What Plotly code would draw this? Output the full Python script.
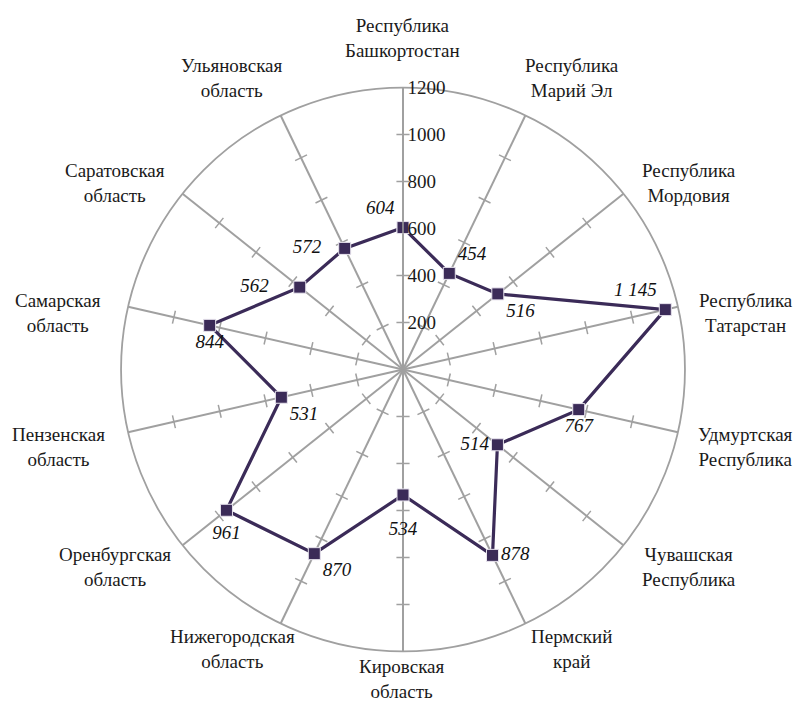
import math
import plotly.graph_objects as go

categories = [
    "Республика<br>Башкортостан",
    "Республика<br>Марий Эл",
    "Республика<br>Мордовия",
    "Республика<br>Татарстан",
    "Удмуртская<br>Республика",
    "Чувашская<br>Республика",
    "Пермский<br>край",
    "Кировская<br>область",
    "Нижегородская<br>область",
    "Оренбургская<br>область",
    "Пензенская<br>область",
    "Самарская<br>область",
    "Саратовская<br>область",
    "Ульяновская<br>область",
]
values = [604, 454, 516, 1145, 767, 514, 878, 534, 870, 961, 531, 844, 562, 572]
value_labels = ["604", "454", "516", "1 145", "767", "514", "878",
                "534", "870", "961", "531", "844", "562", "572"]
label_positions = ["top left", "top right", "bottom right", "top left",
                   "bottom center", "middle left", "middle right",
                   "bottom center", "bottom right", "bottom center",
                   "bottom right", "bottom center", "middle left", "middle left"]
# spacing of each value label from its point (style only)
label_gaps = [12, 12, 12, 12, 12, 12, 12, 40, 12, 22, 12, 12, 48, 36]
radial_ticks = [200, 400, 600, 800, 1000, 1200]
R_MAX = 1200

W, H = 804, 707
DOM_X = [0.1406, 0.8420]
DOM_Y = [0.0898, 0.8876]
# centre of the drawn circle in figure pixels (from top-left)
CX_PX, CY_PX = 394.0, 361.0

n = len(categories)
angles = [i * 360.0 / n for i in range(n)]

SERIF = "Liberation Serif, DejaVu Serif, serif"
LINE = "#3b2b58"
GRID = "#a0a0a0"
TXT = "#1a1a1a"

fig = go.Figure()

# small perpendicular tick marks on every spoke
half = 28.0
tr, tt = [], []
for a in angles:
    for v in radial_ticks[:-1]:
        rr = math.hypot(v, half)
        da = math.degrees(math.atan2(half, v))
        tr += [rr, rr, None]
        tt += [a - da, a + da, None]
fig.add_trace(go.Scatterpolar(
    r=tr, theta=tt, mode="lines",
    line=dict(color=GRID, width=1.5),
    hoverinfo="skip", showlegend=False))

fig.add_trace(go.Scatterpolar(
    r=values + [values[0]],
    theta=angles + [angles[0]],
    mode="lines+markers",
    line=dict(color=LINE, width=3.2),
    marker=dict(symbol="square", size=12, color=LINE,
                line=dict(color="#e8e4ee", width=1)),
    showlegend=False))

# data labels (invisible markers give the text its offset)
fig.add_trace(go.Scatterpolar(
    r=values, theta=angles, mode="markers+text",
    marker=dict(size=label_gaps, opacity=0),
    text=value_labels, textposition=label_positions,
    textfont=dict(family=SERIF, size=19, color="#111111", style="italic"),
    hoverinfo="skip", showlegend=False))

# category labels, centred, placed around the circle (box-aware spacing)
annotations = []
for a, name in zip(angles, categories):
    t = math.radians(a)
    s, c = math.sin(t), math.cos(t)
    dx = 423 * s - 72 * s * abs(s)
    dy = (77 * c * c + 260 * c - 6) if c > 0 else (298 * c - 12)
    px = CX_PX + dx
    py = CY_PX - dy
    annotations.append(dict(
        x=px / W, y=1 - py / H,
        xref="paper", yref="paper", xanchor="center", yanchor="middle",
        text=name, align="center", showarrow=False,
        font=dict(family=SERIF, size=19, color=TXT)))

fig.update_layout(
    width=W, height=H,
    margin=dict(l=0, r=0, t=0, b=0),
    paper_bgcolor="white",
    plot_bgcolor="white",
    annotations=annotations,
    polar=dict(
        domain=dict(x=DOM_X, y=DOM_Y),
        bgcolor="white",
        angularaxis=dict(
            direction="clockwise", rotation=90,
            thetaunit="degrees",
            tickmode="array", tickvals=angles, ticktext=[""] * n,
            showgrid=True, gridcolor=GRID, gridwidth=1.5,
            showline=True, linecolor=GRID, linewidth=1.8,
            ticks="",
        ),
        radialaxis=dict(
            range=[0, R_MAX], angle=90, tickangle=90,
            tickmode="array", tickvals=radial_ticks,
            showgrid=False, showline=True, linecolor=GRID, linewidth=1.5,
            ticks="",
            tickfont=dict(family=SERIF, size=19, color=TXT),
        ),
    ),
)

fig.write_html("out.html")
